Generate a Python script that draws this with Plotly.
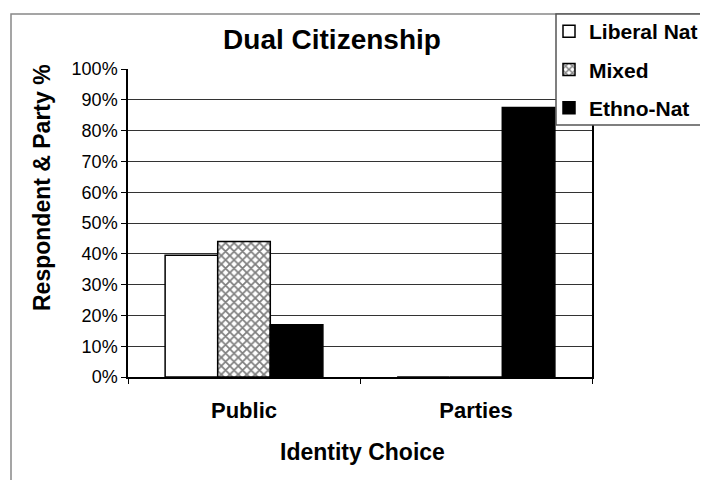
import plotly.graph_objects as go

categories = ["Public", "Parties"]
liberal_nat = [39.5, 0.0]
mixed = [44.0, 0.0]
ethno_nat = [17.0, 87.5]
y_ticks = [0, 10, 20, 30, 40, 50, 60, 70, 80, 90, 100]

FONT = "Liberation Sans, Arial, sans-serif"

# page body has an 8px margin, so work in screen pixels and shift
OFF = 8
W, H = 708 - OFF, 480 - OFF
PL, PR, PT, PB = 128, 592, 69, 377  # plot area in screen pixels


def px_x(p):
    return (p - PL) / (PR - PL)


def px_y(p):
    return (PB - p) / (PB - PT)


fig = go.Figure()
fig.add_trace(go.Bar(
    name="<b>Liberal Nat</b>", x=categories, y=liberal_nat, legendgroup="a",
    marker=dict(color="white", line=dict(color="black", width=1.5)),
))
fig.add_trace(go.Bar(
    name="<b>Mixed</b>", x=categories, y=mixed, legendgroup="b",
    marker=dict(color="white", line=dict(color="black", width=1.5),
                pattern=dict(shape="x", fgcolor="black", bgcolor="white", size=6, solidity=0.5)),
))
fig.add_trace(go.Bar(
    name="<b>Ethno-Nat</b>", x=categories, y=ethno_nat, legendgroup="c",
    marker=dict(color="black", line=dict(color="black", width=1.5)),
))

# outer chart frame
fig.add_shape(type="rect", xref="paper", yref="paper",
              x0=px_x(11), x1=px_x(760), y0=px_y(540), y1=px_y(14),
              line=dict(color="#888888", width=1.5), fillcolor="rgba(0,0,0,0)", layer="below")
# legend box
fig.add_shape(type="rect", xref="paper", yref="paper",
              x0=px_x(556), x1=px_x(760), y0=px_y(125), y1=px_y(14),
              line=dict(color="#555555", width=1.5), fillcolor="white", layer="above")

fig.add_annotation(text="<b>Respondent & Party %</b>", xref="paper", yref="paper",
                   x=px_x(42), y=px_y(188), xanchor="center", yanchor="middle",
                   textangle=-90, showarrow=False, font=dict(family=FONT, size=23, color="black"))
fig.add_annotation(text="<b>Identity Choice</b>", xref="paper", yref="paper",
                   x=px_x(362), y=px_y(452), xanchor="center", yanchor="middle",
                   showarrow=False, font=dict(family=FONT, size=23, color="black"))

fig.update_layout(
    width=W, height=H,
    margin=dict(l=PL - OFF, r=W - (PR - OFF), t=PT - OFF, b=H - (PB - OFF), autoexpand=False),
    paper_bgcolor="white", plot_bgcolor="white",
    font=dict(family=FONT, color="black"),
    title=dict(text="<b>Dual Citizenship</b>", x=(332 - OFF) / W, y=1 - (39 - OFF) / H,
               xanchor="center", yanchor="middle", font=dict(size=28, color="black")),
    barmode="group", bargap=0.32, bargroupgap=0,
    legend=dict(x=px_x(549), y=px_y(11), xanchor="left", yanchor="top",
                bgcolor="rgba(0,0,0,0)", borderwidth=0,
                font=dict(family=FONT, size=21, color="black"),
                traceorder="grouped", tracegroupgap=8),
    xaxis=dict(showline=True, linecolor="black", linewidth=1.5,
               ticks="outside", tickson="boundaries", ticklen=5, tickcolor="black",
               tickfont=dict(size=22, family=FONT, color="black"),
               tickprefix="<b>", ticksuffix="</b>", ticklabelstandoff=13,
               showgrid=False, automargin=False, fixedrange=True),
    yaxis=dict(range=[0, 100], tickvals=y_ticks, ticktext=[f"{v}%" for v in y_ticks],
               showline=True, linecolor="black", linewidth=1.5, mirror=True,
               ticks="outside", ticklen=5, tickcolor="black",
               tickfont=dict(size=18, family=FONT, color="black"),
               showgrid=True, gridcolor="#333333", gridwidth=1,
               zeroline=False, automargin=False, fixedrange=True),
)

fig.write_html("out.html")
